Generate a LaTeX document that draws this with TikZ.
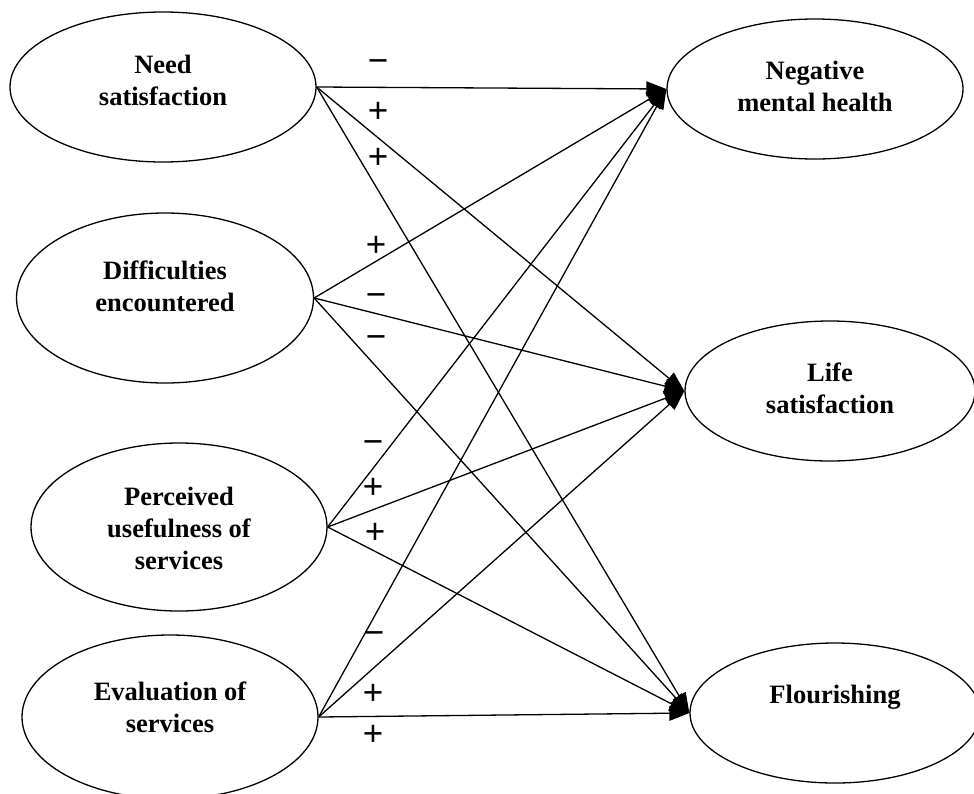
\documentclass[tikz,border=0pt]{standalone}
\usepackage{fontspec}
\setmainfont{Liberation Serif}
\newfontfamily\signfont{Liberation Sans}
\usetikzlibrary{arrows.meta,shapes.geometric}
\tikzset{
  ell/.style={draw, line width=1.3pt, ellipse, inner sep=0pt},
  lab/.style={align=center, font=\bfseries\fontsize{26.5}{32}\selectfont},
  sgn/.style={font=\signfont\fontsize{35}{35}\selectfont, inner sep=0pt},
  arr/.style={line width=1.3pt, -{Triangle[length=20pt,width=15pt]}}
}
\begin{document}
\begin{tikzpicture}[x=1pt,y=-1pt]
\useasboundingbox (0,0) rectangle (974,793);
% sources
\node[ell, minimum width=306pt, minimum height=150pt] (ns) at (163,87) {};
\node[ell, minimum width=297pt, minimum height=170pt] (de) at (165,298) {};
\node[ell, minimum width=296pt, minimum height=168pt] (pu) at (179,527) {};
\node[ell, minimum width=296pt, minimum height=164pt] (es) at (170,717) {};
% targets
\node[ell, minimum width=296pt, minimum height=140pt] (nm) at (815,89) {};
\node[ell, minimum width=290pt, minimum height=140pt] (ls) at (830,391) {};
\node[ell, minimum width=290pt, minimum height=140pt] (fl) at (835,713) {};
% texts
\node[lab] (nst) at (163,80) {Need\\satisfaction};
\node[lab] (det) at (165,286) {Difficulties\\encountered};
\node[lab] (put) at (179,528) {Perceived\\usefulness of\\services};
\node[lab] (est) at (170,707) {Evaluation of\\services};
\node[lab] (nmt) at (815,86) {Negative\\mental health};
\node[lab] (lst) at (830,388) {Life\\satisfaction};
\node[lab] (flt) at (835,697) {Flourishing};
% arrows
\foreach \s in {ns,de,pu,es}{
  \foreach \t in {nm,ls,fl}{
    \draw[arr] (\s.east) -- (\t.west);
  }
}
% signs
\node[sgn] (s1) at (378,66) {−};
\node[sgn] (s2) at (378,112) {+};
\node[sgn] (s3) at (378,158) {+};
\node[sgn] (s4) at (376,246) {+};
\node[sgn] (s5) at (376,300) {−};
\node[sgn] (s6) at (376,342) {−};
\node[sgn] (s7) at (373,447) {−};
\node[sgn] (s8) at (373,488) {+};
\node[sgn] (s9) at (375,533) {+};
\node[sgn] (s10) at (374,638) {−};
\node[sgn] (s11) at (373,694) {+};
\node[sgn] (s12) at (373,735) {+};
\end{tikzpicture}
\end{document}
